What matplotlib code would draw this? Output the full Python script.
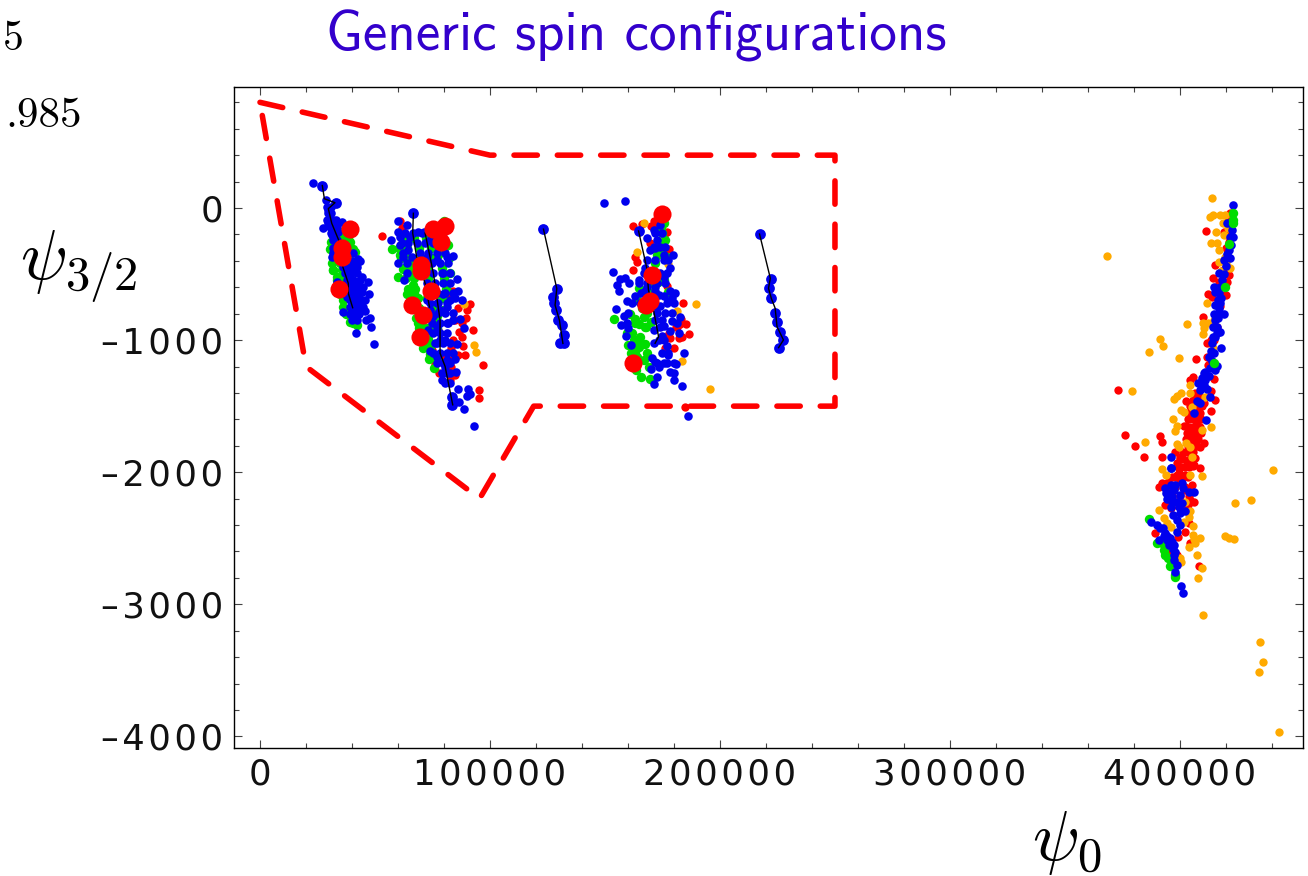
import numpy as np
import matplotlib
matplotlib.use('Agg')
import matplotlib.pyplot as plt
from matplotlib.ticker import FixedLocator, FixedFormatter

plt.rcParams['mathtext.fontset'] = 'cm'

# values, (psi0, psi3/2)
region_x = [0, 100000, 250000, 250000, 119000, 95500, 20000, 0]
region_y = [800, 400, 400, -1500, -1500, -2200, -1200, 800]

track_a = [(27100, 170), (28000, 70), (32600, 40), (29700, -5), (31200, -116), (34500, -255), (36000, -445), (38400, -570), (38400, -646), (40300, -755)]
track_b1 = [(66700, -40), (66400, -190), (68100, -370), (71800, -570), (73700, -750)]
track_b2 = [(71800, -190), (75400, -495), (78300, -850), (78300, -1100), (80500, -1200), (83800, -1490)]
track_c = [(123250, -160), (129050, -610), (128300, -735), (130200, -850), (131700, -1025)]
track_d = [(164600, -174), (168200, -457), (168900, -621), (171100, -772), (173300, -974), (171800, -1024)]
track_e = [(217200, -197), (221900, -532), (221100, -608), (222300, -683), (224000, -759), (224800, -898), (227600, -999), (225500, -1057)]

big_red = [(39150, -160), (35500, -305), (35500, -370), (34400, -616),
           (75400, -160), (80500, -140), (78600, -255), (70000, -430), (70000, -480), (74200, -625), (66000, -737), (71000, -810), (69600, -974),
           (174700, -48), (170400, -507), (169400, -701), (167900, -734), (162400, -1176)]

big_blue = [(27100, 170), (32900, 40), (66700, -40), (83700, -1430), (83700, -1490),
            (123250, -160), (129050, -610), (127600, -676), (128000, -721), (128800, -772), (129500, -848), (131200, -885), (132000, -961), (130500, -1019), (132400, -1019),
            (164600, -174),
            (217200, -197), (222100, -537), (221100, -608), (222300, -679), (224000, -797), (225000, -860), (226200, -936), (227400, -999), (225500, -1057)]

blue = [(22910, 186), (28565, 60), (29725, -15), (31900, -91), (35815, -104), (29725, -116), (27550, -154), (31175, -205), (33350, -116), (34075, -179), (32625, -243), (31465, -369), (34800, -394), (42775, -389), (42050, -419), (40600, -482), (36975, -495), (44515, -525), (47125, -558), (42775, -558), (40600, -583), (33350, -558), (38425, -608), (47415, -651), (44225, -634), (41325, -646), (45675, -697), (42775, -722), (39875, -722), (45675, -777), (40600, -772), (36250, -785), (47850, -830), (46110, -848), (41325, -810), (48140, -904), (41905, -949), (49735, -1032), (37700, -671), (39875, -545), (43500, -608), (41325, -684), (43500, -772), (39150, -520), (36975, -444),
        (56800, -240), (60200, -100), (64100, -130), (60200, -180), (60900, -220), (60900, -280), (62300, -370), (60200, -420), (62800, -545), (65300, -220), (68900, -180), (71100, -180), (76800, -390), (81200, -370), (84100, -360), (79700, -490), (85500, -540), (82700, -570), (86300, -630), (87700, -700), (84800, -680), (81200, -750), (76800, -720), (75400, -820), (87000, -840), (88500, -910), (84100, -850), (81200, -870), (75400, -950), (78300, -1000), (76800, -1130), (74000, -1080), (81200, -1150), (84800, -1140), (85100, -1240), (81200, -1250), (79300, -1300), (86300, -1370), (86700, -1470), (90300, -1370), (91100, -1410), (89900, -1420), (88700, -1520), (93200, -1650), (85500, -1030), (71100, -440), (66000, -370), (74000, -240), (77600, -290), (72500, -700), (76800, -900), (74000, -770), (79700, -650), (63800, -420), (72500, -370), (78300, -770), (76800, -1020), (80500, -1000), (73200, -920), (64500, -320), (82700, -700), (80500, -1200),
        (149600, 40), (158500, 56), (153400, -484), (156600, -537), (158500, -532), (155400, -583), (156200, -628), (160400, -570), (159500, -701), (155000, -767), (158300, -817), (157000, -888), (159800, -911), (159200, -969), (161200, -1037), (164600, -545), (165600, -646), (168200, -595), (171800, -595), (171100, -1024), (170400, -1138), (171800, -1163), (175500, -1176), (170100, -1218), (173300, -1201), (178400, -1239), (179800, -1246), (181000, -1181), (180200, -1302), (172600, -1282), (171100, -1332), (183600, -1350), (184200, -1095), (182400, -944), (182700, -822), (180500, -646), (176900, -722), (174700, -848), (175500, -999), (177600, -1113), (179100, -684), (179400, -356), (175500, -356), (172600, -242), (168200, -230), (171100, -166), (174000, -129), (171800, -305), (175500, -520), (169700, -318), (167500, -457), (178400, -457), (173300, -658), (185900, -1574), (174000, -898), (172600, -747),
        (423000, 23), (422700, -166), (421900, -217), (421200, -318), (421900, -381), (419000, -394), (416900, -494), (418300, -545), (415000, -595), (417600, -595), (415400, -633), (415400, -734), (417600, -722), (419000, -802), (416900, -785), (415400, -848), (416200, -898), (417600, -936), (415400, -974), (414000, -1024), (418000, -1057), (414700, -1095), (416200, -1193), (413000, -1214), (415400, -1226), (410400, -1246), (407700, -1327), (411100, -1302), (413000, -1428), (411800, -1370), (408600, -1478), (406000, -1554), (411500, -1605), (395900, -1885), (396100, -1970), (420500, -116), (421900, -116), (416900, -759),
        (396100, -1971), (400900, -2085), (397300, -2135), (394100, -2160), (400200, -2173), (406000, -2153), (403800, -2153), (395900, -2211), (398700, -2223), (395900, -2261), (402400, -2291), (400200, -2312), (397000, -2324), (398700, -2362), (399900, -2400), (387200, -2375), (390100, -2400), (392700, -2425), (398700, -2450), (393000, -2483), (390800, -2514), (394400, -2514), (397300, -2551), (395100, -2551), (398000, -2602), (397300, -2665), (398700, -2703), (398000, -2758), (400500, -2864), (401400, -2915), (400900, -2236)]

# the crowded middles of the blobs
blue_dense = [(29000, 10), (31000, 10), (29500, -40), (31000, -40), (29000, -90), (33000, -90), (30450, -142), (31900, -142), (33350, -142), (31000, -190), (33000, -190), (31900, -243), (33350, -243), (31900, -300), (31900, -343), (40600, -343), (40600, -400), (43500, -400), (36250, -444), (39150, -444), (42050, -444), (37700, -495), (42050, -495), (37700, -545), (40600, -545), (43500, -545), (39150, -600), (42050, -600), (44950, -600), (37700, -646), (40600, -646), (43500, -646), (39150, -700), (41000, -700), (44000, -700), (39150, -747), (41000, -747), (43500, -747), (45000, -747), (39150, -800), (41000, -800), (43000, -800), (40000, -848), (42050, -848),
              (63100, -192), (66700, -192), (70300, -192), (73900, -192), (76800, -192), (79700, -192), (61600, -268), (64500, -268), (68100, -268), (71800, -268), (75400, -268), (79000, -268), (62300, -343), (69600, -343), (73200, -343), (76800, -343), (80500, -343), (71100, -420), (74700, -420), (78300, -420), (81900, -420), (63800, -495), (71800, -495), (75400, -495), (79000, -495), (82700, -495), (72500, -570), (76100, -570), (79700, -570), (73200, -646), (76800, -646), (80500, -646), (84100, -646), (74000, -722), (77600, -722), (81200, -722), (74000, -797), (77600, -797), (80500, -797), (84100, -797), (74700, -873), (78300, -873), (81900, -873), (78300, -950), (81200, -950), (76100, -1025), (79700, -1025), (82700, -1025), (75400, -1100), (78300, -1100), (81200, -1100), (84100, -1100), (76800, -1176), (79700, -1176), (82700, -1176), (79000, -1250), (82700, -1250), (80500, -1327), (82700, -1327),
              (171800, -192), (174700, -192), (171100, -293), (174000, -293), (176200, -293), (168200, -394), (171800, -394), (175500, -394), (177600, -394), (166800, -494), (170400, -494), (174000, -494), (176900, -494), (164600, -570), (168200, -570), (172600, -570), (176200, -570), (163100, -665), (167500, -625), (171800, -625), (175500, -665), (178400, -630), (161700, -722), (165300, -722), (170400, -700), (174000, -745), (177600, -705), (179800, -722), (160200, -797), (172600, -797), (176200, -797), (179100, -797), (159500, -873), (171800, -850), (175500, -895), (179100, -855), (181300, -873), (171100, -925), (174700, -970), (178400, -930), (173300, -1000), (176900, -1045), (174700, -1100), (177600, -1100), (172600, -1176), (176900, -1176), (179800, -1176),
              (422000, -280), (423000, -220), (420500, -350), (420000, -440), (419000, -500), (417000, -640), (418000, -680), (416500, -700), (415000, -800), (416500, -830), (414500, -900), (416000, -950), (414500, -980), (413500, -1080), (412500, -1130), (414000, -1160), (411000, -1240), (412500, -1270), (409500, -1290), (410500, -1340), (408500, -1380), (407500, -1460),
              (396000, -2100), (398000, -2100), (401500, -2120), (399500, -2260), (396500, -2190), (394500, -2200), (393500, -2120), (395500, -2160), (391500, -2420), (393500, -2460), (395500, -2500), (394500, -2480), (396500, -2530), (397000, -2580), (397500, -2630)]

green = [(31175, -313), (34800, -179), (38425, -230), (41325, -331), (31900, -470), (33350, -545), (36975, -394), (40600, -470), (36250, -747), (40600, -873), (42050, -886), (42050, -684), (39875, -419), (36250, -205),
         (57600, -310), (59900, -520), (63800, -650), (62300, -460), (66700, -580), (72500, -255), (82700, -495), (81900, -280), (75700, -1215), (74000, -1105), (79700, -770), (68900, -870), (71800, -1040), (66000, -510), (77600, -355), (60900, -355), (80000, -100), (76800, -820),
         (154000, -843), (163100, -873), (166800, -822), (161700, -949), (164600, -1050), (168200, -1100), (163600, -1226), (169700, -1297), (163100, -1087), (168200, -797), (165300, -974), (172600, -356), (174700, -192), (175500, -116), (173300, -280), (171800, -419), (175500, -545), (177300, -638), (164600, -608), (167500, -898), (160200, -1037),
         (386400, -2357), (390100, -2539), (392200, -2534), (393000, -2589), (393700, -2627), (394700, -2652), (395600, -2710), (397300, -2708), (398000, -2778), (398000, -2796)]

green_dense = [(33350, -205), (37000, -205), (38000, -205), (31000, -260), (34800, -260), (37700, -260), (39150, -260), (30450, -313), (33350, -313), (38425, -313), (40600, -313), (31900, -370), (36250, -370), (38425, -370), (31175, -420), (34800, -420), (38000, -420), (31900, -470), (35500, -470), (39000, -470), (33350, -520), (36250, -520), (33350, -590), (36250, -590), (38000, -590), (35000, -650), (37000, -650), (36250, -700), (37500, -800), (39150, -800), (39150, -860), (41000, -860),
               (62000, -230), (67000, -230), (72000, -230), (78000, -230), (60500, -305), (64000, -305), (69000, -305), (74500, -305), (80000, -305), (61500, -380), (65000, -380), (70000, -380), (75000, -380), (82000, -380), (62500, -455), (65500, -455), (72500, -455), (79000, -455), (63500, -530), (67000, -530), (73000, -530), (80000, -530), (64500, -610), (67500, -610), (74000, -610), (81000, -610), (66500, -685), (68500, -685), (72500, -685), (79000, -685), (67000, -760), (69000, -760), (76000, -760), (68000, -835), (72000, -835), (76000, -835), (69000, -910), (73000, -910), (77000, -910), (70000, -990), (73000, -990), (71000, -1060), (74000, -1060), (73500, -1140), (77000, -1140),
               (67000, -430), (69000, -500), (67000, -640), (71000, -790), (72000, -950), (71000, -900), (73000, -1030),
               (164000, -700), (166000, -760), (168000, -720), (161000, -800), (163000, -840), (165000, -880), (168000, -900), (170000, -860), (159500, -950), (162500, -1000), (165000, -1020), (167500, -1030), (161500, -1100), (164000, -1130), (167000, -1150), (169000, -1200), (165500, -1280), (163000, -1180), (170000, -640), (170500, -560), (172000, -500), (173000, -560), (175000, -300), (176000, -240), (177000, -370), (174500, -150)]

green_top = [(423000, -35), (423000, -91), (423000, -116), (421200, -275), (419800, -595), (414700, -1176)]

red = [(52900, -210), (61900, -150), (60900, -100), (82200, -665), (84100, -630), (91100, -725), (89900, -770), (89600, -835), (92500, -925), (87700, -980), (88200, -1045), (86300, -1110), (89200, -1110), (96900, -1190), (95300, -1375), (95300, -1440), (84800, -1265), (82400, -1300), (77900, -1250), (86700, -940), (84100, -850), (77600, -920), (82400, -1150), (74700, -1075),
       (85000, -850), (86000, -760), (88000, -870), (84000, -1000), (83000, -1060), (79000, -1130), (76000, -1180), (83000, -1200),
       (162000, -134), (166000, -124), (171100, -96), (169900, -136), (163100, -373), (163800, -411), (162300, -472), (169400, -267), (175200, -267), (176900, -590), (183900, -719), (185200, -878), (182700, -880), (181300, -898), (186600, -956), (183400, -974), (182300, -986), (178400, -986), (176600, -974), (179800, -1062), (184600, -1503), (175500, -204),
       (178000, -310), (177000, -180), (172000, -150), (181000, -900), (183000, -840), (178000, -950), (176000, -1060),
       (411500, -171), (419300, -179), (420500, -204), (415400, -431), (414300, -532), (421200, -507), (420500, -557), (412200, -653), (414000, -671), (420100, -658), (418300, -658), (417300, -742), (410200, -822), (407000, -1140), (411800, -1125), (411800, -1024), (373100, -1378), (404500, -1302), (405700, -1277), (414700, -1297), (413500, -1383), (415400, -1453), (402700, -1458), (406700, -1403), (408200, -1504), (413700, -1536), (401700, -1647), (405300, -1554), (407500, -1605), (406000, -1705), (408900, -1655), (376100, -1718), (391400, -1723), (392200, -1774), (380500, -1804), (384200, -1887), (392100, -1887), (407500, -1731), (410400, -1781), (404500, -1756), (398000, -1844), (400200, -1882), (406700, -1895), (398500, -1928), (403100, -1945), (408600, -1970), (405700, -1953), (399500, -2008), (402400, -2021), (410400, -1478), (408900, -1428), (404500, -1655), (406700, -1781), (408900, -1806), (403800, -1844), (421900, -40),
       (390800, -2110), (392200, -2085), (394700, -2072), (398700, -2022), (403100, -1946), (406000, -1946), (405300, -2097), (393700, -2249), (406000, -2223), (404500, -2211), (395900, -2274), (389300, -2458), (402100, -2450), (399000, -2493), (404300, -2534), (395900, -2609), (398700, -2627), (408200, -2710), (403800, -2387), (400200, -2059), (402400, -2135),
       (405500, -1450), (407500, -1450), (404500, -1500), (406000, -1500), (407500, -1500), (409500, -1500), (403500, -1550), (406500, -1550), (408500, -1550), (403500, -1600), (405500, -1600), (407000, -1600), (409000, -1600), (402500, -1650), (406500, -1650), (408000, -1650), (403000, -1700), (404500, -1700), (407500, -1700), (409000, -1700), (402500, -1750), (405000, -1750), (408000, -1750), (403500, -1800), (405500, -1800), (407500, -1800), (401500, -1850), (403000, -1850), (405500, -1850), (400000, -1900), (401500, -1900), (404500, -1900), (399000, -1960), (400500, -1960), (402000, -1960), (404000, -1960), (396500, -2040), (398000, -2040), (400000, -2040), (401500, -2040), (403500, -2040), (394000, -2110), (396000, -2110), (398000, -2110), (402000, -2110), (396500, -2180), (400000, -2180), (404000, -2180), (397000, -2250), (401000, -2250), (403500, -2250),
       (421000, -100), (421500, -260), (420000, -300), (419500, -460), (418500, -470), (417000, -560), (416500, -620), (416000, -900), (415000, -1000), (413500, -1000), (413500, -1150), (412000, -1190)]

orange = [(88700, -730), (93100, -1040), (94000, -1090),
          (166800, -116), (164100, -335), (177300, -424), (189500, -724), (181400, -782), (183700, -1158), (195700, -1372),
          (368200, -363), (414000, 73), (413200, -71), (414400, -53), (417300, -53), (419800, -53), (418800, -116), (415700, -179), (413500, -267), (415900, -267), (416900, -318), (419000, -204), (416900, -406), (421900, -457), (411800, -722), (403000, -875), (410100, -873), (412100, -868), (410400, -911), (410100, -954), (391500, -991), (392800, -1044), (386700, -1087), (399600, -1133), (379300, -1383), (397300, -1443), (398800, -1423), (400600, -1403), (404500, -1340), (404500, -1403), (400500, -1529), (401900, -1547), (396900, -1600), (398500, -1647), (398000, -1685), (409600, -1680), (413300, -1658), (384700, -1769), (398500, -1786), (399500, -1811), (402800, -1781), (404500, -1806), (405300, -1882), (392200, -1978), (394100, -2021), (409600, -2028), (404500, -2021), (440600, -1986), (411100, -1428), (405300, -1504),
          (402100, -2223), (391100, -2286), (404500, -2294), (403800, -2337), (401700, -2375), (393000, -2350), (394400, -2387), (405700, -2408), (395900, -2413), (405600, -2476), (408600, -2501), (406700, -2539), (406000, -2506), (403800, -2564), (407200, -2625), (419600, -2481), (421500, -2501), (423700, -2508), (400200, -2652), (400600, -2678), (409600, -2728), (407900, -2804), (409900, -3084), (434900, -3288), (436000, -3437), (434300, -3513), (443000, -3969), (398000, -2223), (430700, -2211), (423800, -2233),
          (421000, -150), (419500, -370), (420000, -420), (418000, -480), (415000, -850), (414500, -1060)]

xticks = [0, 100000, 200000, 300000, 400000]
xlabels = ['0', '100000', '200000', '300000', '400000']
yticks = [0, -1000, -2000, -3000, -4000]
ylabels = ['0', '\u20131000', '\u20132000', '\u20133000', '\u20134000']


def spaced(s):
    return '\u200a'.join(s)


def dots(ax, pts, color, size, z):
    pts = np.array(pts)
    ax.scatter(pts[:, 0], pts[:, 1], s=size, c=color, linewidths=0, zorder=z)


W, H = 1308, 876
fig = plt.figure(figsize=(W / 100, H / 100), dpi=100)
ax = fig.add_axes([234 / W, 1 - 748 / H, (1303 - 234) / W, (748 - 87) / H])
ax.set_xlim(-11300, 453500)
ax.set_ylim(-4088, 916)

ax.plot(region_x, region_y, color='#ff0000', lw=4, dashes=(4.2, 3.6), dash_capstyle='round', zorder=1)

dots(ax, red, '#ff0000', 36, 2)
dots(ax, orange, '#ffaa00', 36, 2.5)
dots(ax, green + green_dense, '#00dd00', 46, 3)
dots(ax, blue + blue_dense, '#0000ee', 38, 4)
dots(ax, green_top, '#00dd00', 46, 4.5)
dots(ax, big_blue, '#0000ee', 60, 5)
for t in [track_a, track_b1, track_b2, track_c, track_d, track_e]:
    t = np.array(t)
    ax.plot(t[:, 0], t[:, 1], color='black', lw=1, zorder=6)
dots(ax, big_red, '#ff0000', 170, 7)

ax.xaxis.set_major_locator(FixedLocator(xticks))
ax.xaxis.set_major_formatter(FixedFormatter([spaced(s) for s in xlabels]))
ax.yaxis.set_major_locator(FixedLocator(yticks))
ax.yaxis.set_major_formatter(FixedFormatter([spaced(s) for s in ylabels]))
ax.xaxis.set_minor_locator(FixedLocator(np.arange(0, 450001, 20000)))
ax.yaxis.set_minor_locator(FixedLocator(np.arange(-4000, 801, 200)))
ax.tick_params(which='major', direction='in', length=5.5, width=0.8, color='#444444', top=True, right=True, labelsize=25.5, labelcolor='#111111')
ax.tick_params(which='minor', direction='in', length=3.5, width=0.8, color='#444444', top=True, right=True)
ax.tick_params(axis='x', which='major', pad=7)
ax.tick_params(axis='y', which='major', pad=8)
for s in ax.spines.values():
    s.set_linewidth(1)

fig.text(636 / W, 1 - 50 / H, 'Generic spin configurations', family='cmss10', fontsize=39.7, color='#3300cc', ha='center', va='baseline')
fig.text(3 / W, 1 - 50 / H, '5', family='cmr10', fontsize=30, va='baseline')
fig.text(5 / W, 1 - 127 / H, '.985', family='cmr10', fontsize=31, va='baseline')
fig.text(20 / W, 1 - 279 / H, r'$\psi_{3/2}$', fontsize=50, va='baseline')
fig.text(1032 / W, 1 - 860 / H, r'$\psi_{0}$', fontsize=50, va='baseline')

fig.savefig('out.png', dpi=100)
